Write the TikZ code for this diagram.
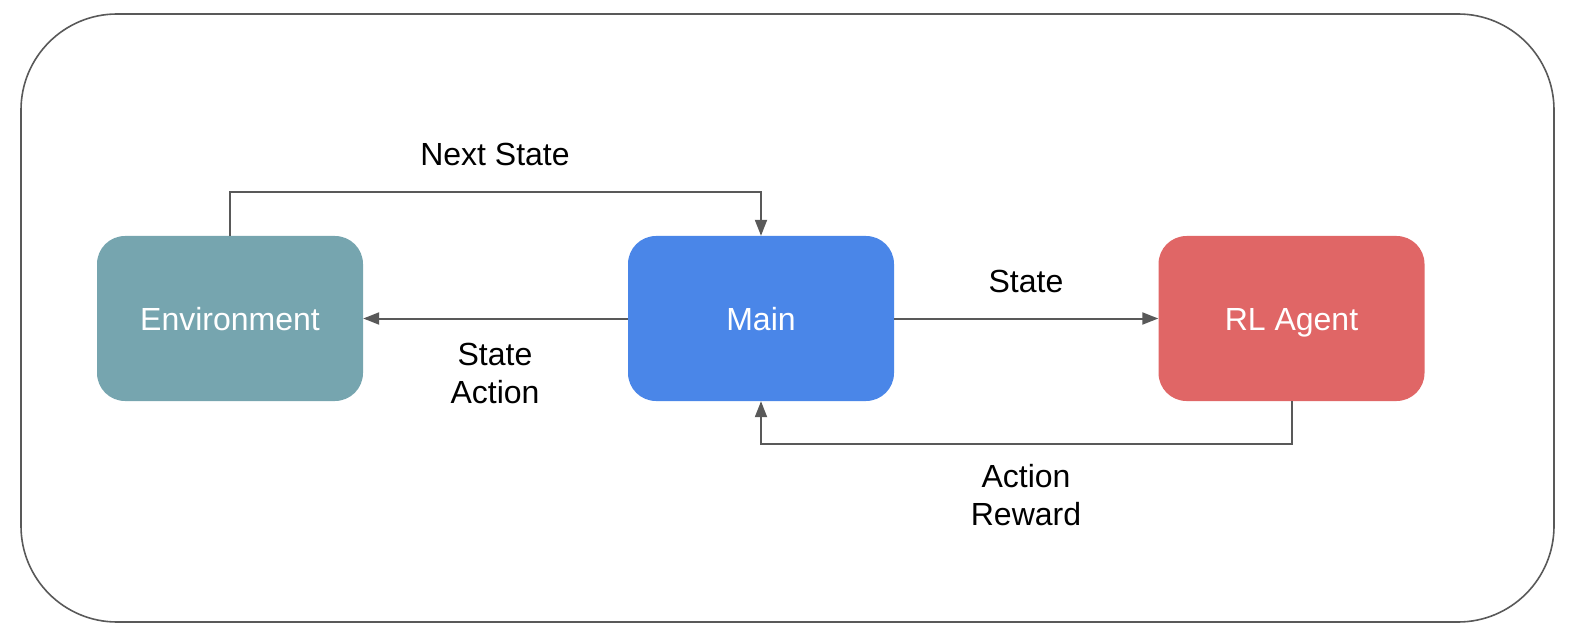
\documentclass[tikz,border=0pt]{standalone}
\usepackage{fontspec}
\setmainfont{Liberation Sans}
\usetikzlibrary{arrows.meta}
\definecolor{envc}{HTML}{76A5AF}
\definecolor{mainc}{HTML}{4A86E8}
\definecolor{rlc}{HTML}{E06666}
\definecolor{linec}{HTML}{595959}
\begin{document}
\begin{tikzpicture}[x=1pt,y=-1pt,
  box/.style={rounded corners=28pt, minimum width=266pt, minimum height=165pt,
    inner sep=0pt, text=white, text height=23pt, text depth=0pt,
    font=\fontsize{32}{38}\selectfont},
  conn/.style={draw=linec, line width=2pt, -{Triangle[length=16pt,width=12pt]}},
  lbl/.style={font=\fontsize{32}{38}\selectfont, align=center, inner sep=0pt},
  outer/.style={draw=linec, line width=1.6pt, rounded corners=96pt}]
\useasboundingbox (0,0) rectangle (1580,639);
\draw[outer] (21,14) rectangle (1554,622);
\node[box, fill=envc] (env) at (230,318.5) {Environment};
\node[box, fill=mainc] (main) at (761,318.5) {Main};
\node[box, fill=rlc] (rl) at (1291.5,318.5) {RL Agent};
\draw[conn] (env.north) -- ++(0,-44) -| (main.north);
\draw[conn] (main.west) -- (env.east);
\draw[conn] (main.east) -- (rl.west);
\draw[conn] (rl.south) -- ++(0,43) -| (main.south);
\node[lbl] (lns) at (495,154) {Next State};
\node[lbl] (lsa) at (495,373) {State\\Action};
\node[lbl] (ls) at (1026,281) {State};
\node[lbl] (lar) at (1026,495) {Action\\Reward};
\end{tikzpicture}
\end{document}
